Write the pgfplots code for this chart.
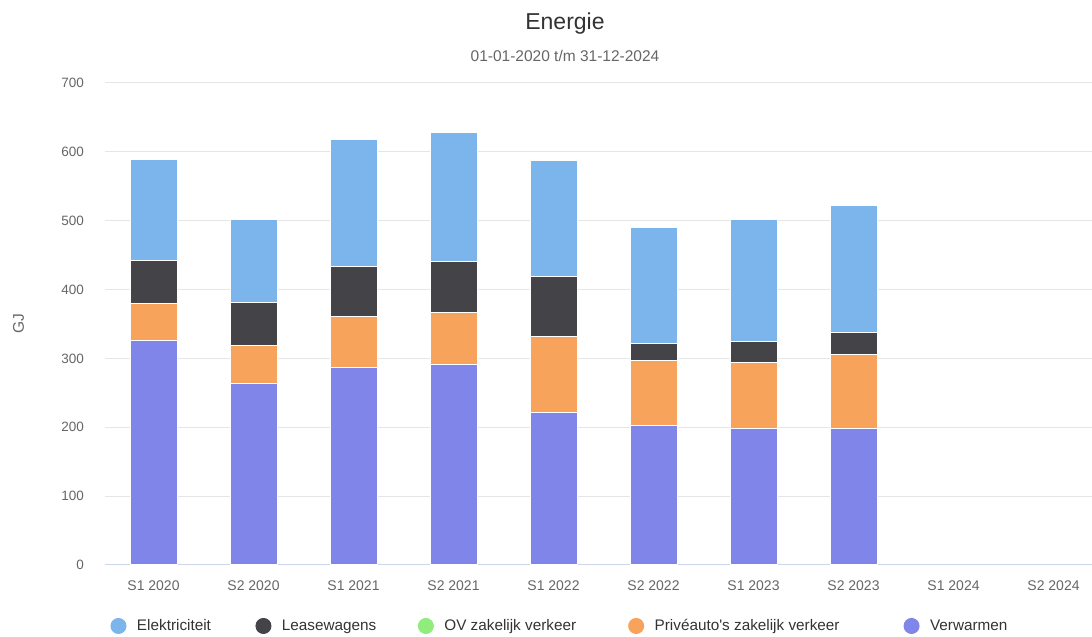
\documentclass[border=0pt]{standalone}
\usepackage{fontspec}
\setmainfont{Liberation Sans}[Ligatures=TeXOff]
\usepackage{pgfplots}
\pgfplotsset{compat=1.18}
\usepackage{pgfplotstable}

\definecolor{elek}{HTML}{7CB5EC}
\definecolor{lease}{HTML}{434348}
\definecolor{ov}{HTML}{90ED7D}
\definecolor{prive}{HTML}{F7A35C}
\definecolor{verw}{HTML}{8085E9}
\definecolor{gridgray}{HTML}{E6E6E6}
\definecolor{axisblue}{HTML}{CCD6EB}
\definecolor{labelgray}{HTML}{666666}
\definecolor{titlegray}{HTML}{333333}

% GJ per half year, S1 2020 .. S2 2023 (2024 has no data)
\pgfplotstableread{
x verw prive ov lease elek
0 326 54 0 62 147
1 264 54.5 0 62 121.5
2 287.5 73.7 0 72 185
3 291 76 0 73.5 187.3
4 221 111 0 87.6 168
5 202 95.4 0 25 167.6
6 198 95.5 0 31 177.7
7 198 107 0 33 183.4
}\energie

\begin{document}
\begin{tikzpicture}[x=1pt,y=1pt]
\useasboundingbox (0,0) rectangle (1092,637);
\begin{axis}[
  at={(105pt,72pt)}, anchor=south west,
  scale only axis, width=987pt, height=482pt,
  xmin=-0.485, xmax=9.385, ymin=0, ymax=700,
  ybar stacked, bar width=47pt,
  xtick={0,...,9},
  xticklabels={S1 2020,S2 2020,S1 2021,S2 2021,S1 2022,S2 2022,S1 2023,S2 2023,S1 2024,S2 2024},
  ytick={100,200,...,700},
  extra y ticks={0},
  extra y tick style={grid style={axisblue, line width=1pt}},
  ymajorgrids, grid style={gridgray, line width=1pt},
  major tick length=0pt,
  axis line style={draw=none},
  /pgf/number format/assume math mode=true,
  yticklabel style={font=\fontsize{13.5}{16}\selectfont, text=labelgray, anchor=east, inner sep=0pt, xshift=-21pt},
  xticklabel style={font=\fontsize{14}{16}\selectfont, text=labelgray, anchor=base, inner sep=0pt, yshift=-25pt},
  ylabel={GJ},
  every axis y label/.style={at={(axis description cs:0,0.5)}, xshift=-86.5pt, rotate=90, anchor=center, font=\fontsize{15.5}{18}\selectfont, text=labelgray},
  legend columns=5,
  legend style={draw=none, fill=none, inner sep=0pt, outer sep=0pt,
    at={(axis description cs:0.00557,-0.1265)}, anchor=west,
    font=\fontsize{15.3}{18}\selectfont, text=titlegray,
    nodes={inner sep=0pt},
    /tikz/every odd column/.append style={column sep=10.5pt},
    /tikz/column 2/.style={column sep=44.5pt},
    /tikz/column 4/.style={column sep=41.5pt},
    /tikz/column 6/.style={column sep=52pt},
    /tikz/column 8/.style={column sep=64pt}},
  every axis plot/.append style={draw=white, line width=1pt},
]
\addlegendimage{legend image code/.code={\fill[elek] (7.5pt,0pt) circle (7.5pt);}}
\addlegendentry{Elektriciteit}
\addlegendimage{legend image code/.code={\fill[lease] (7.5pt,0pt) circle (7.5pt);}}
\addlegendentry{Leasewagens}
\addlegendimage{legend image code/.code={\fill[ov] (7.5pt,0pt) circle (7.5pt);}}
\addlegendentry{OV zakelijk verkeer}
\addlegendimage{legend image code/.code={\fill[prive] (7.5pt,0pt) circle (7.5pt);}}
\addlegendentry{Privéauto's zakelijk verkeer}
\addlegendimage{legend image code/.code={\fill[verw] (7.5pt,0pt) circle (7.5pt);}}
\addlegendentry{Verwarmen}

\addplot[fill=verw, forget plot] table[x=x, y=verw] {\energie};
\addplot[fill=prive, forget plot] table[x=x, y=prive] {\energie};
\addplot[fill=ov, forget plot] table[x=x, y=ov] {\energie};
\addplot[fill=lease, forget plot] table[x=x, y=lease] {\energie};
\addplot[fill=elek, forget plot] table[x=x, y=elek] {\energie};
\end{axis}
\node[font=\fontsize{23}{27}\selectfont, text=titlegray, anchor=base] at (565,607) {Energie};
\node[font=\fontsize{15.5}{18}\selectfont, text=labelgray, anchor=base] at (565,575.5) {01-01-2020 t/m 31-12-2024};
\end{tikzpicture}
\end{document}
